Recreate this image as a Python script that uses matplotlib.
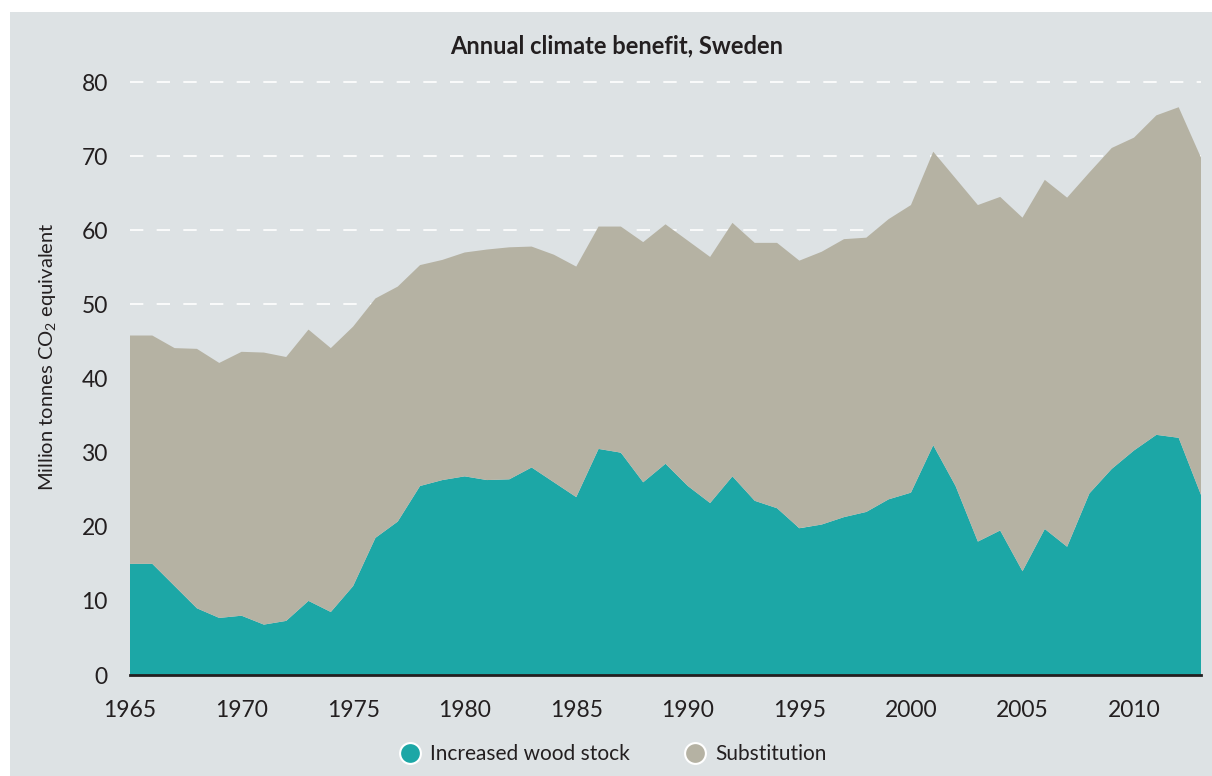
import numpy as np
import matplotlib
matplotlib.use('Agg')
import matplotlib.pyplot as plt
from matplotlib.lines import Line2D
from matplotlib.patches import Rectangle

plt.rcParams['font.family'] = ['Lato', 'DejaVu Sans']
plt.rcParams['mathtext.fontset'] = 'custom'
plt.rcParams['mathtext.rm'] = 'Lato'

years = list(range(1965, 2014))

# million tonnes CO2 eq
wood_stock = [15.0, 15.0, 12.0, 9.0, 7.7, 8.0, 6.8, 7.3, 10.0, 8.5,
              12.0, 18.5, 20.7, 25.5, 26.3, 26.8, 26.3, 26.4, 28.0, 26.0,
              24.0, 30.5, 30.0, 26.0, 28.5, 25.5, 23.2, 26.8, 23.5, 22.5,
              19.8, 20.3, 21.3, 22.0, 23.7, 24.6, 31.0, 25.5, 18.0, 19.5,
              14.0, 19.7, 17.3, 24.5, 27.8, 30.3, 32.4, 32.0, 24.3]
substitution = [30.8, 30.8, 32.1, 35.0, 34.4, 35.6, 36.7, 35.6, 36.6, 35.6,
                35.0, 32.3, 31.7, 29.8, 29.7, 30.2, 31.1, 31.3, 29.8, 30.7,
                31.1, 30.0, 30.5, 32.4, 32.3, 33.1, 33.2, 34.2, 34.8, 35.8,
                36.1, 36.8, 37.5, 37.0, 37.8, 38.8, 39.6, 41.5, 45.4, 45.0,
                47.7, 47.1, 47.1, 43.3, 43.3, 42.2, 43.1, 44.6, 45.5]

labels = ['Increased wood stock', 'Substitution']
colors = ['#1ca7a6', '#b5b2a3']
bg = '#dde2e4'
txt = '#231f20'

fig = plt.figure(figsize=(12.12, 7.76), dpi=100, facecolor='white')
panel = Rectangle((10 / 1212, 0), 1 - 10 / 1212, 1 - 12 / 776,
                  transform=fig.transFigure, facecolor=bg,
                  edgecolor='none', zorder=-10)
fig.add_artist(panel)

ax = fig.add_axes([130 / 1212, 101 / 776, 1071 / 1212, 600.4 / 776])
ax.set_facecolor('none')

ax.stackplot(years, wood_stock, substitution, colors=colors, zorder=2,
             linewidth=0)

for v in range(10, 90, 10):
    ax.axhline(v, color='white', lw=1.2, dashes=(8, 8), zorder=1)

ax.set_xlim(1965, 2013)
ax.set_ylim(0, 81)
ax.set_xticks(range(1965, 2011, 5))
ax.set_yticks(range(0, 81, 10))

for s in ['top', 'right', 'left']:
    ax.spines[s].set_visible(False)
ax.spines['bottom'].set_color('#231f20')
ax.spines['bottom'].set_linewidth(2)
ax.spines['bottom'].set_zorder(3)
ax.tick_params(length=0, labelsize=16.5, labelcolor=txt)
ax.tick_params(axis='x', pad=18)
ax.tick_params(axis='y', pad=16)

ax.set_ylabel(r'Million tonnes CO$_\mathregular{2}$ equivalent', fontsize=14.5,
              color=txt)
ax.yaxis.set_label_coords(-0.066, 0.53)

fig.text(617 / 1212, 1 - 46 / 776, 'Annual climate benefit, Sweden',
         ha='center', va='center', fontsize=17, fontweight='bold', color=txt)

handles = [Line2D([], [], marker='o', ls='none', markersize=15,
                  markerfacecolor=c, markeredgecolor='white',
                  markeredgewidth=1.5) for c in colors]
fig.legend(handles, labels, loc='center', ncol=2, frameon=False,
           bbox_to_anchor=(613 / 1212, 1 - 754 / 776), fontsize=15,
           handlelength=1.0, handletextpad=0.5, columnspacing=2.6,
           labelcolor=txt)

fig.savefig('out.png', dpi=100, facecolor='white')
